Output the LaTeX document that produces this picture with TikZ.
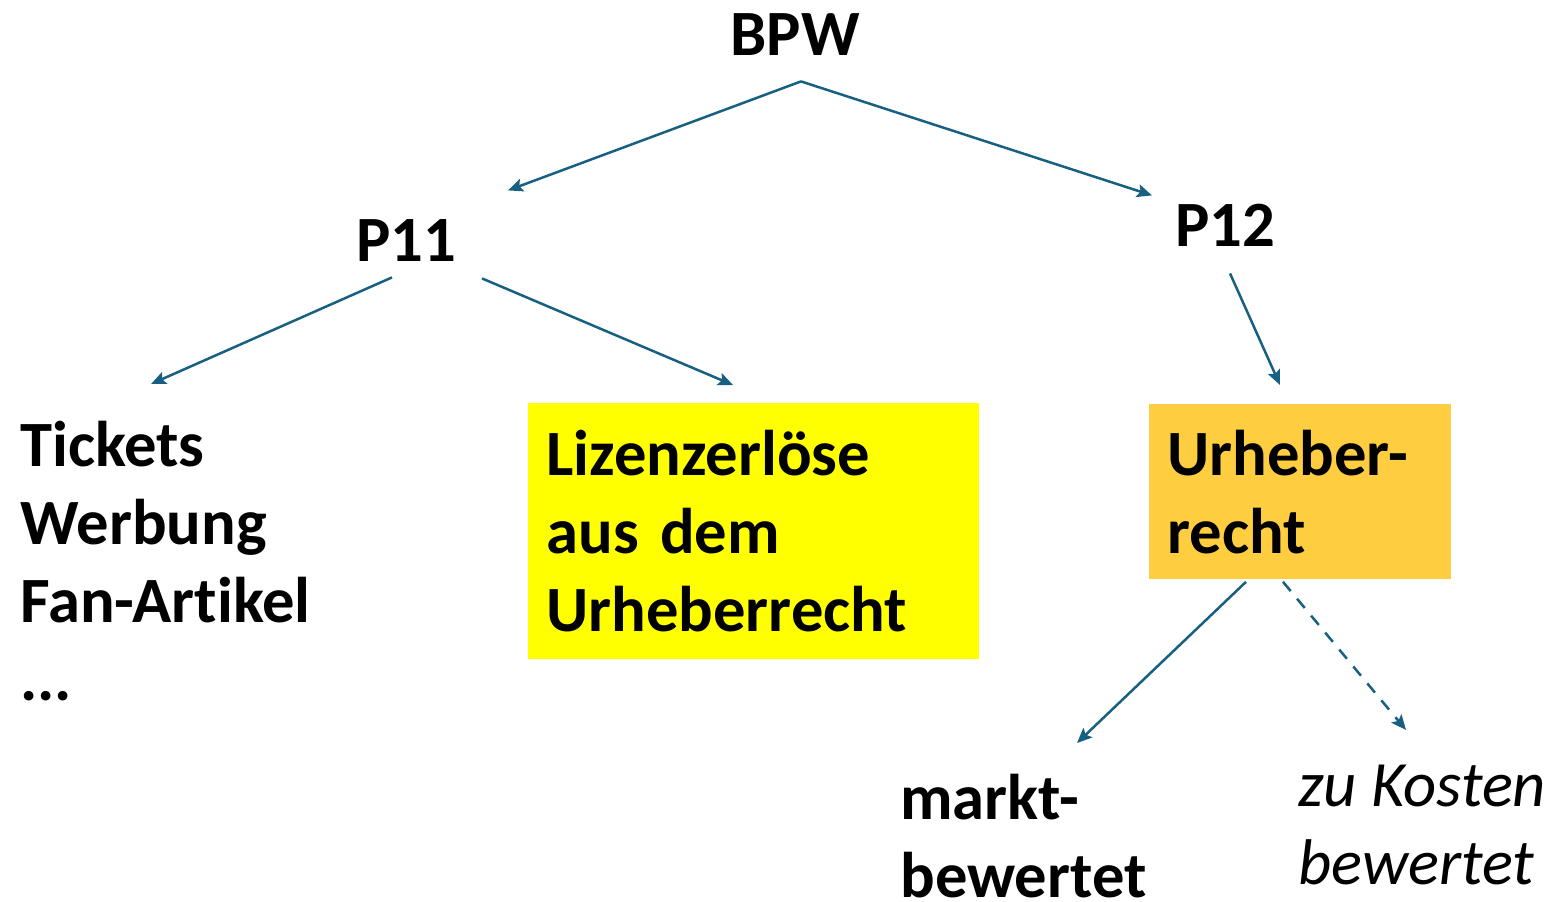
\documentclass[tikz,border=0pt]{standalone}
\usepackage{fontspec}
\setmainfont[Ligatures={NoCommon}]{Carlito}
\usetikzlibrary{calc,arrows.meta}
\definecolor{arrowblue}{RGB}{24,96,130}
\definecolor{boxyellow}{RGB}{255,255,0}
\definecolor{boxorange}{RGB}{255,205,64}
\tikzset{
  lbl/.style={inner sep=0pt, font=\fontsize{32.3}{39}\selectfont\bfseries, align=left},
  itlbl/.style={inner sep=0pt, font=\fontsize{32.3}{39}\selectfont\itshape, align=left},
  conn/.style={draw=arrowblue, line width=1.25pt, -{Stealth[length=7.5pt,width=6.5pt,inset=1.5pt]}},
  dconn/.style={conn, dash pattern=on 6pt off 5pt},
  boxnode/.style={inner xsep=9pt, inner ysep=0pt, anchor=north west, align=left,
    font=\fontsize{32.3}{39}\selectfont\bfseries},
}
\begin{document}
\begin{tikzpicture}[x=0.5pt,y=-0.5pt]
\useasboundingbox (0,0) rectangle (1550,901);
\node[lbl, anchor=base] (bpw) at (795,55) {BPW};
\node[lbl, anchor=base] (p11) at (406,261) {P11};
\node[lbl, anchor=base] (p12) at (1225,246) {P12};
\node[lbl, anchor=north west] (lst) at (20,421) {Tickets\\Werbung\\Fan-Artikel\\...};
\node[boxnode, fill=boxyellow, text width=207.5pt, minimum height=128pt] (lic) at (528,403) {Lizenzerlöse\\aus dem\\Urheberrecht};
\node[boxnode, fill=boxorange, text width=133pt, minimum height=87.5pt] (urh) at (1149,404) {Urheber-\\recht};
\node[lbl, anchor=north west] (mk) at (900,774) {markt-\\bewertet};
\node[itlbl, anchor=north west] (kos) at (1298,765) {zu Kosten\\bewertet};
\draw[conn] ($(bpw.south)+(6,26)$) -- ($(p11.south)+(102,-71)$);
\draw[conn] ($(bpw.south)+(6,26)$) -- ($(p12.south)+(-73,-51)$);
\draw[conn] ($(p11.south)+(-14,16)$) -- ($(lst.north west)+(131,-37)$);
\draw[conn] ($(p11.south)+(76,17)$) -- ($(lic.north west)+(205,-18)$);
\draw[conn] ($(p12.south)+(5,27)$) -- ($(urh.north west)+(131,-19)$);
\draw[conn] ($(urh.south west)+(97,2)$) -- ($(mk.north west)+(177,-31)$);
\draw[dconn] ($(urh.south west)+(134,2)$) -- ($(kos.north west)+(108,-35)$);
\end{tikzpicture}
\end{document}
